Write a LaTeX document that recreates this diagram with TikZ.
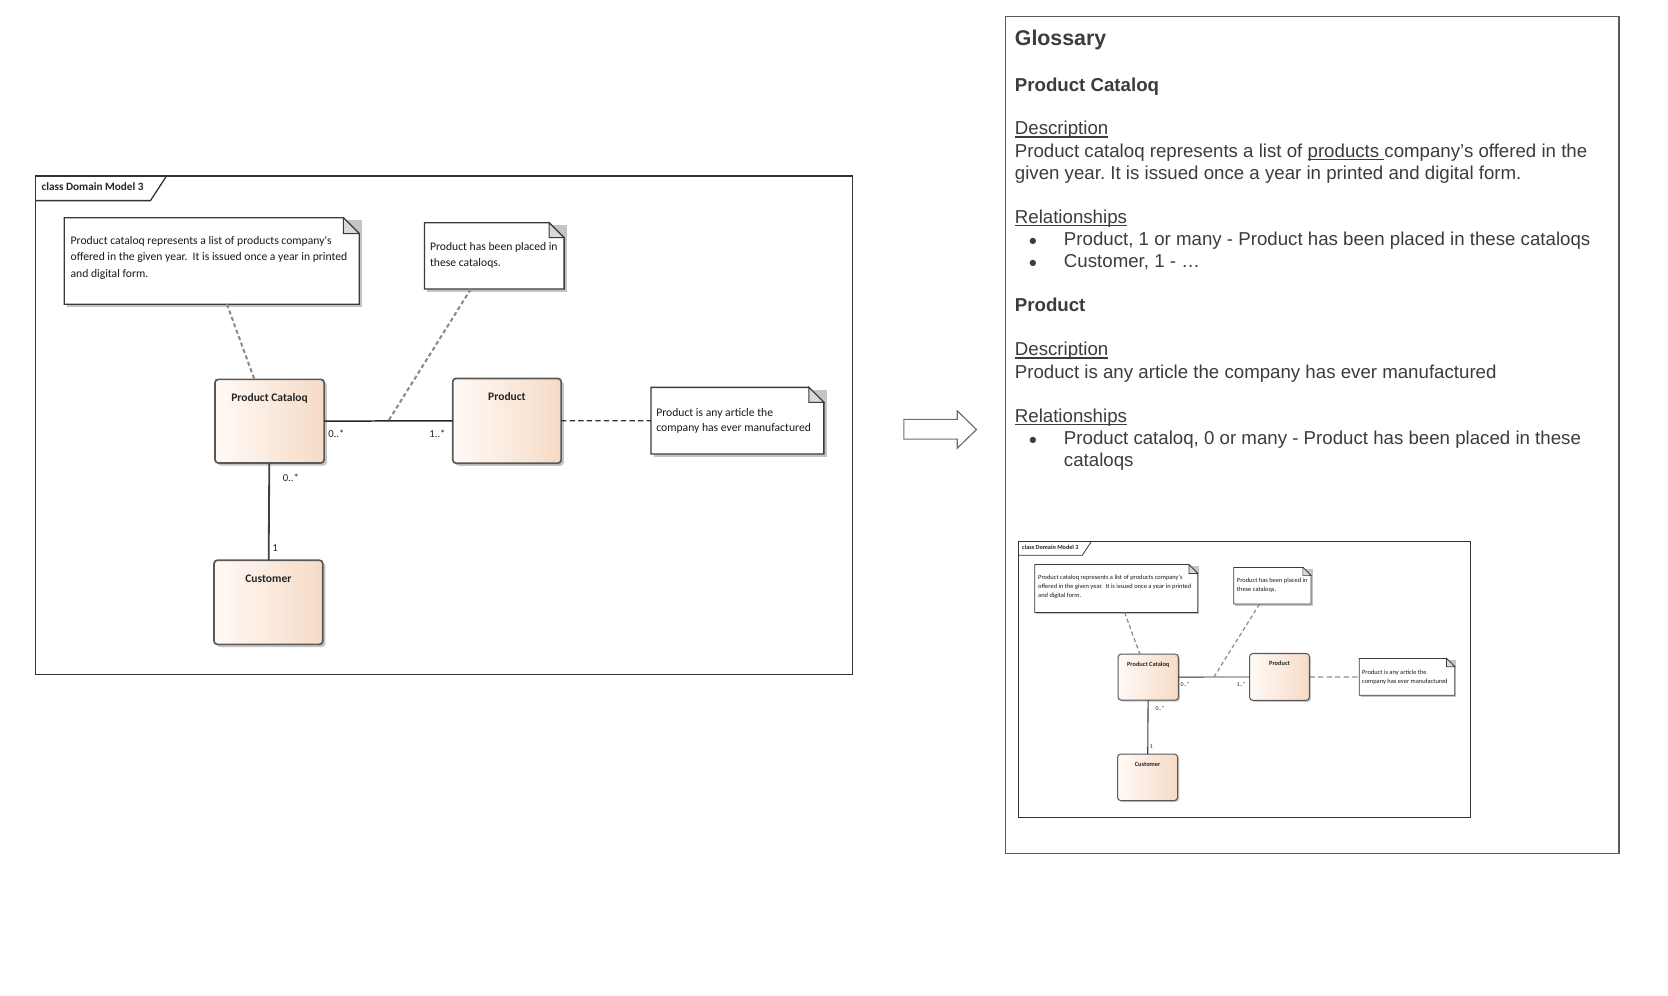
\documentclass[tikz,border=0pt]{standalone}
\usepackage{fontspec}
\setmainfont{Liberation Sans}
\newfontfamily\carlito{Carlito}
\usetikzlibrary{calc}
\definecolor{txt}{HTML}{3C3C3C}
\definecolor{peach}{HTML}{F6DBC6}
\definecolor{cream}{HTML}{FFFAF7}
\definecolor{edgec}{HTML}{585858}
\definecolor{shadec}{HTML}{C4C4C4}
\definecolor{foldc}{HTML}{D9D9D9}
\definecolor{notec}{HTML}{3A3A3A}
\definecolor{linkc}{HTML}{8A8A8A}
\definecolor{framec}{HTML}{333333}
\definecolor{arrowc}{HTML}{6E6E6E}
\definecolor{gboxc}{HTML}{5A5A5A}
\frenchspacing

\newcommand\lwf{1}
\newcommand\myul[1]{\setbox0=\hbox{#1}\rlap{\rule[-2.6pt]{\wd0}{1.2pt}}\box0}

\tikzset{
  every node/.style={inner sep=0pt, outer sep=0pt},
  gtext/.style={anchor=base west, text=txt, font=\fontsize{17.5}{20.75}\selectfont},
  ghead/.style={anchor=base west, text=txt, font=\bfseries\fontsize{17.5}{20.75}\selectfont},
  gbul/.style={anchor=base, text=txt, font=\fontsize{13.5}{13.5}\selectfont},
  notetext/.style={anchor=base west, text=black!90, font=\carlito\fontsize{10.9}{15.5}\selectfont},
  multtext/.style={anchor=base west, text=black!85, font=\carlito\fontsize{10}{12}\selectfont},
  classbox/.style={draw=edgec, line width=\lwf*1.6pt, rounded corners=3pt, left color=cream, right color=peach},
  assoc/.style={draw=black!85, line width=\lwf*1.4pt},
  notelink/.style={draw=linkc, line width=\lwf*1.9pt, dash pattern=on 3.8pt off 2.6pt},
  notelinkb/.style={draw=black!80, line width=\lwf*1.2pt, dash pattern=on 5pt off 3pt},
}

% name x1 y1 x2 y2 fold
\newcommand\umlnote[6]{%
  \fill[shadec] (#2+2.5,#3+2.5) rectangle (#4+2.5,#5+2.5);
  \filldraw[fill=white, draw=notec, line width=\lwf*1.2pt] (#2,#3) -- (#4-#6,#3) -- (#4,#3+#6) -- (#4,#5) -- (#2,#5) -- cycle;
  \filldraw[fill=foldc, draw=notec, line width=\lwf*1pt] (#4-#6,#3) -- (#4-#6,#3+#6) -- (#4,#3+#6) -- cycle;
  \node[minimum width=#4-#2, minimum height=#5-#3, anchor=north west] (#1) at (#2,#3) {};
}
% name x1 y1 x2 y2 label
\newcommand\umlclass[6]{%
  \fill[shadec, rounded corners=3pt] (#2+2.5,#3+2.5) rectangle (#4+2.5,#5+2.5);
  \node[classbox, minimum width=#4-#2, minimum height=#5-#3, anchor=north west] (#1) at (#2,#3) {};
  \node[anchor=base, text=black!85, font=\carlito\bfseries\fontsize{10.8}{12}\selectfont] (#1l) at ({(#2+#4)/2},#3+20.8) {#6};
}

\newcommand\domainmodel[1]{%
  \node[draw=framec, line width=\lwf*1.3pt, minimum width=766, minimum height=467, anchor=north west] (#1frame) at (0,0) {};
  \draw[framec, line width=\lwf*1.2pt] (0,23) -- (108,23) -- (123,0);
  \node[anchor=base west, text=black!85, font=\carlito\bfseries\fontsize{10.5}{12}\selectfont] (#1title) at (6,13.7) {class Domain Model 3};
  % notes
  \umlnote{#1n1}{27.3}{39}{303.7}{120}{15}
  \node[notetext] (#1n1a) at (33.2,64) {Product cataloq represents a list of products company's};
  \node[notetext] (#1n1b) at (33.2,79.5) {offered in the given year.\ \ It is issued once a year in printed};
  \node[notetext] (#1n1c) at (33.2,95) {and digital form.};
  \umlnote{#1n2}{364.7}{43.7}{495.6}{105.9}{14}
  \node[notetext] (#1n2a) at (370,69.5) {Product has been placed in};
  \node[notetext] (#1n2b) at (370,84.5) {these cataloqs.};
  \umlnote{#1n3}{577}{198}{739}{260.5}{14}
  \node[notetext] (#1n3a) at (582,225) {Product is any article the};
  \node[notetext] (#1n3b) at (582,239.8) {company has ever manufactured};
  % classes
  \umlclass{#1pc}{168.5}{190.5}{270.7}{268.8}{Product Cataloq}
  \umlclass{#1prod}{391.3}{189.6}{492.8}{269}{Product}
  \umlclass{#1cust}{167.6}{360}{269.4}{438.8}{Customer}
  % connectors
  \coordinate (#1mid) at (331,229.2);
  \draw[assoc] (#1pc) -- (#1prod);
  \draw[assoc, draw=black!75, line width=\lwf*1.7pt] (#1pc) -- (#1cust);
  \draw[notelink] ($(#1n1.south west)!0.551!(#1n1.south east)$) -- ($(#1pc.north west)!0.361!(#1pc.north east)$);
  \draw[notelink] ($(#1n2.south west)!0.332!(#1n2.south east)$) -- (#1mid);
  \draw[notelinkb] (#1prod) -- (#1n3);
  % multiplicities
  \node[multtext] (#1m1) at (274.7,245) {0..*};
  \node[multtext] (#1m2) at (369.4,245) {1..*};
  \node[multtext] (#1m3) at (232,286.4) {0..*};
  \node[multtext] (#1m4) at (222.2,351.4) {1};
}

\begin{document}
\begin{tikzpicture}[x=1pt, y=-1pt]
\useasboundingbox[fill=white] (0,0) rectangle (1563,933);

% left diagram
\begin{scope}[shift={(33,165)}]
  \domainmodel{l}
\end{scope}

% hollow arrow
\draw[arrowc, line width=1.1pt, fill=white, line join=miter]
  (847,393) -- (897,393) -- (897,385) -- (915,402.5) -- (897,420) -- (897,411.5) -- (847,411.5) -- cycle;

% glossary
\node[draw=gboxc, line width=1.2pt, minimum width=1517-942, minimum height=800-15.5, anchor=north west] (gloss) at (942,15.5) {};
\node[anchor=base west, text=txt, font=\bfseries\fontsize{20}{24}\selectfont] (g1) at (951,43) {Glossary};
\node[ghead] (g2) at (951,86) {Product Cataloq};
\node[gtext] (g3) at (951,126.5) {\myul{Description}};
\node[gtext] (g4) at (951,147.25) {Product cataloq represents a list of \myul{products }company's offered in the};
\node[gtext] (g5) at (951,168) {given year. It is issued once a year in printed and digital form.};
\node[gtext] (g6) at (951,209.25) {\myul{Relationships}};
\node[gbul] (b1) at (968,230) {●};
\node[gtext] (g7) at (997,230) {Product, 1 or many - Product has been placed in these cataloqs};
\node[gbul] (b2) at (968,250.75) {●};
\node[gtext] (g8) at (997,250.75) {Customer, 1 - …};
\node[ghead] (g9) at (951,292) {Product};
\node[gtext] (g10) at (951,333.5) {\myul{Description}};
\node[gtext] (g11) at (951,354.25) {Product is any article the company has ever manufactured};
\node[gtext] (g12) at (951,395.75) {\myul{Relationships}};
\node[gbul] (b3) at (968,416.5) {●};
\node[gtext] (g13) at (997,416.5) {Product cataloq, 0 or many - Product has been placed in these};
\node[gtext] (g14) at (997,437.25) {cataloqs};

% thumbnail
\begin{scope}[shift={(954.5,507.5)}, scale=0.553, transform shape]
  \renewcommand\lwf{0.6}
  \domainmodel{t}
\end{scope}
\end{tikzpicture}
\end{document}
